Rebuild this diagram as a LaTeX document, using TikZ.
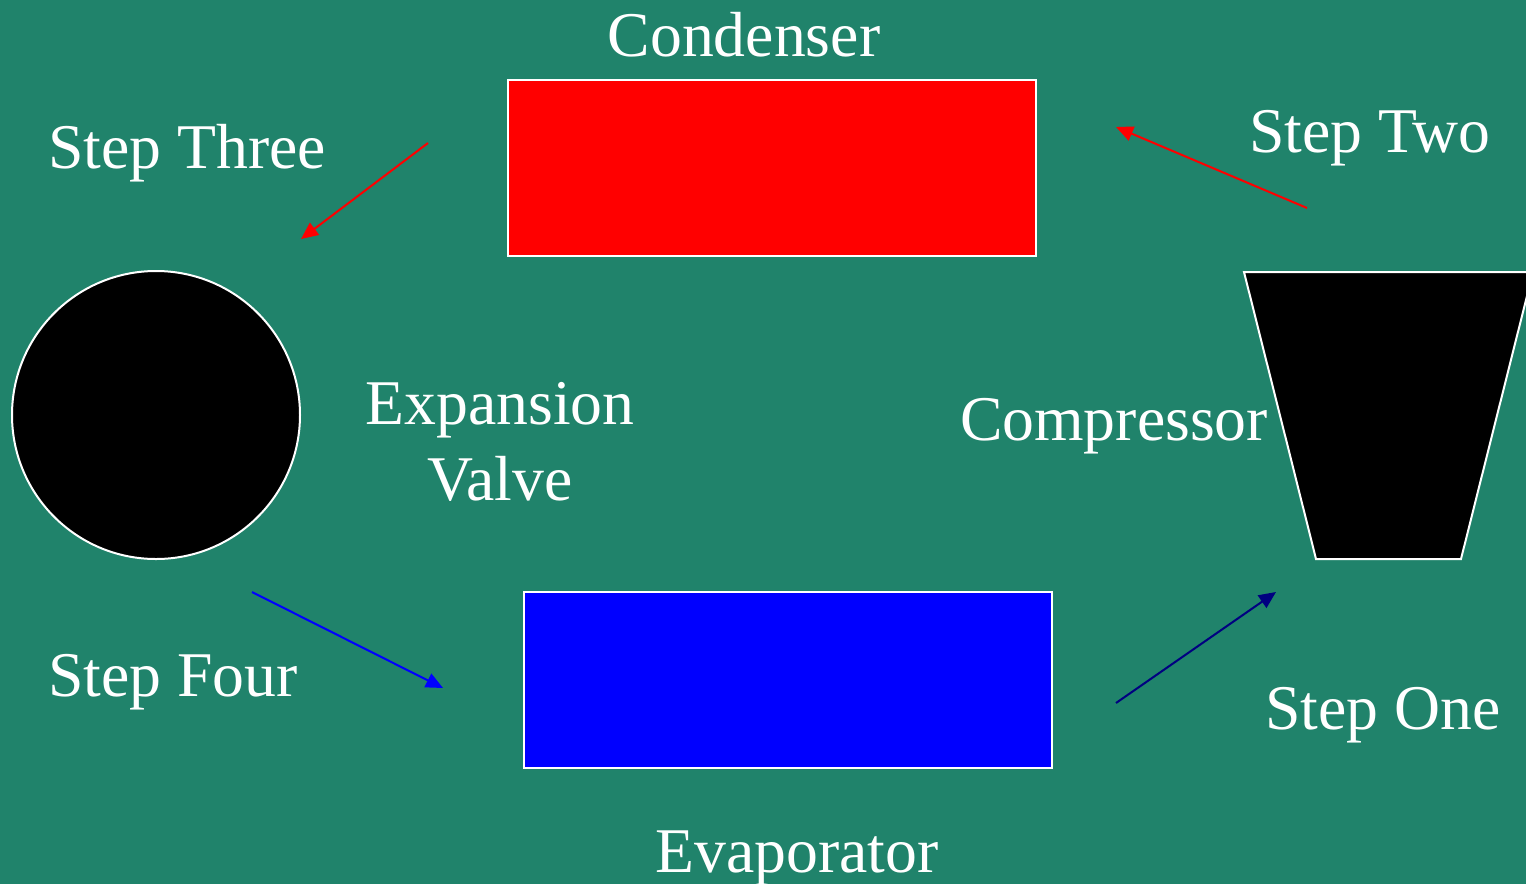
\documentclass[tikz,border=0pt]{standalone}
\usepackage{fontspec}
\setmainfont{Liberation Serif}
\usetikzlibrary{arrows.meta}
\definecolor{bg}{RGB}{32,131,107}
\definecolor{navyarrow}{RGB}{0,0,128}
\tikzset{
  lbl/.style={text=white, inner sep=0pt, anchor=base west, font=\fontsize{63.7}{75}\selectfont},
  lblc/.style={text=white, inner sep=0pt, anchor=base, font=\fontsize{63.7}{75}\selectfont},
  part/.style={draw=white, line width=2pt, inner sep=0pt},
  flow/.style={line width=2pt, -{Triangle[length=17pt,width=15pt]}},
}
\begin{document}
\begin{tikzpicture}[x=1pt,y=-1pt]
\fill[bg] (0,0) rectangle (1526,884);
\useasboundingbox (0,0) rectangle (1526,884);
\clip (0,0) rectangle (1526,884);
% components
\node[part, fill=red, minimum width=528pt, minimum height=176pt] (cond) at (772,168) {};
\node[part, fill=blue, minimum width=528pt, minimum height=176pt] (evap) at (788,680) {};
\node[part, fill=black, circle, minimum size=288pt] (valve) at (156,415) {};
\coordinate (c1) at (1244,272);
\coordinate (c2) at (1533,272);
\coordinate (c3) at (1461,559);
\coordinate (c4) at (1316,559);
\draw[draw=white, line width=2pt, fill=black] (c1) -- (c2) -- (c3) -- (c4) -- cycle;
% labels
\node[lblc] (condl) at (744,56) {Condenser};
\node[lblc] (evapl) at (797,872) {Evaporator};
\node[lblc] (expl) at (500,424) {Expansion};
\node[lblc] (vall) at (500,500) {Valve};
\node[lblc] (compl) at (1114,440) {Compressor};
\node[lbl] (s3) at (48,168) {Step Three};
\node[lbl] (s2) at (1249,152) {Step Two};
\node[lbl] (s4) at (48,696) {Step Four};
\node[lbl] (s1) at (1265,729) {Step One};
% arrows
\coordinate (a3s) at (428,143); \coordinate (a3e) at (301,239);
\coordinate (a2s) at (1307,208); \coordinate (a2e) at (1116,127);
\coordinate (a4s) at (252,592); \coordinate (a4e) at (443,688);
\coordinate (a1s) at (1116,703); \coordinate (a1e) at (1276,592);
\draw[flow, red] (a3s) -- (a3e);
\draw[flow, red] (a2s) -- (a2e);
\draw[flow, blue] (a4s) -- (a4e);
\draw[flow, navyarrow] (a1s) -- (a1e);
\end{tikzpicture}
\end{document}
